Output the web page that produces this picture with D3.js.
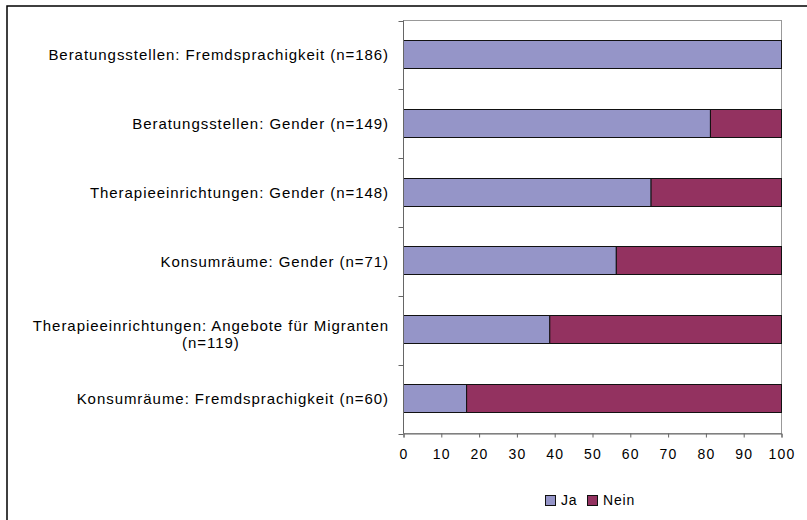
<!DOCTYPE html>
<html>
<head>
<meta charset="utf-8">
<script src="https://cdn.jsdelivr.net/npm/d3@7"></script>
<style>
  body { margin: 0; background: #fff; }
  text { font-family: "Liberation Sans", Arial, sans-serif; fill: #000; }
</style>
</head>
<body>
<div id="chart"></div>
<script>
// Categories, top to bottom
const categories = [
  'Beratungsstellen: Fremdsprachigkeit (n=186)',
  'Beratungsstellen: Gender (n=149)',
  'Therapieeinrichtungen: Gender (n=148)',
  'Konsumräume: Gender (n=71)',
  'Therapieeinrichtungen: Angebote für Migranten (n=119)',
  'Konsumräume: Fremdsprachigkeit (n=60)'
];
// Percent values
const ja = [100, 81.2, 65.5, 56.3, 38.7, 16.7];
const nein = [0, 18.8, 34.5, 43.7, 61.3, 83.3];
const seriesNames = ['Ja', 'Nein'];
const xTicks = [0, 10, 20, 30, 40, 50, 60, 70, 80, 90, 100];

const colors = { 'Ja': '#9595c8', 'Nein': '#933260' };

const width = 807, height = 520;
const margin = { top: 20.5, right: 25.5, bottom: 86.5, left: 403.5 };

const svg = d3.select('#chart')
  .append('svg')
    .attr('width', width)
    .attr('height', height);

// Outer frame
svg.append('rect')
  .attr('x', 7).attr('y', 6)
  .attr('width', width).attr('height', height)
  .attr('fill', 'none')
  .attr('stroke', '#000')
  .attr('stroke-width', 1.5);

const x = d3.scaleLinear()
  .domain([0, 100])
  .range([margin.left, width - margin.right]);

const y = d3.scaleBand()
  .domain(categories)
  .range([margin.top, height - margin.bottom]);

const barH = 28;

// Plot area border
svg.append('rect')
  .attr('x', x(0)).attr('y', margin.top)
  .attr('width', x(100) - x(0))
  .attr('height', height - margin.bottom - margin.top)
  .attr('fill', 'none')
  .attr('stroke', '#999');

// Stack the data
const table = categories.map((c, i) => ({ cat: c, Ja: ja[i], Nein: nein[i] }));
const stacked = d3.stack().keys(seriesNames)(table);

svg.append('g')
  .selectAll('g')
  .data(stacked)
  .join('g')
    .attr('fill', d => colors[d.key])
  .selectAll('rect')
  .data(d => d.filter(p => p[1] - p[0] > 0))
  .join('rect')
    .attr('x', d => x(d[0]))
    .attr('y', d => Math.round(y(d.data.cat) + (y.bandwidth() - barH) / 2 - 1) + 0.5)
    .attr('width', d => x(d[1]) - x(d[0]))
    .attr('height', barH)
    .attr('stroke', '#111')
    .attr('stroke-width', 1);

// Left axis (ticks at band edges)
const yEdges = categories.map(c => y(c)).concat([height - margin.bottom]);
const leftAxis = svg.append('g');
leftAxis.append('line')
  .attr('x1', x(0)).attr('x2', x(0))
  .attr('y1', margin.top).attr('y2', height - margin.bottom)
  .attr('stroke', '#666');
leftAxis.selectAll('.tk')
  .data(yEdges)
  .join('line')
    .attr('x1', x(0) - 5).attr('x2', x(0))
    .attr('y1', d => Math.round(d) + 0.5).attr('y2', d => Math.round(d) + 0.5)
    .attr('stroke', '#666');

// Category labels, wrapped when too long
const labelRight = 389;
const maxLabelW = 370;
svg.append('g')
  .selectAll('text')
  .data(categories)
  .join('text')
    .attr('font-size', 15)
    .attr('letter-spacing', '0.95px')
    .attr('text-anchor', 'end')
    .each(function(d) {
      const t = d3.select(this);
      const cy = y(d) + y.bandwidth() / 2;
      t.text(d).attr('x', labelRight).attr('y', cy).attr('dy', '0.35em');
      if (this.getComputedTextLength() > maxLabelW) {
        const cut = d.lastIndexOf(' (');
        const l1 = d.slice(0, cut), l2 = d.slice(cut + 1);
        t.text(null);
        const a = t.append('tspan').text(l1).attr('x', labelRight).attr('y', cy - 5).attr('dy', '0.35em');
        const w1 = a.node().getComputedTextLength();
        t.append('tspan').text(l2)
          .attr('x', labelRight - w1 / 2).attr('y', cy + 12).attr('dy', '0.35em')
          .attr('text-anchor', 'middle');
      }
    });

// Bottom axis
const xAxis = svg.append('g')
  .attr('transform', `translate(0,${height - margin.bottom})`)
  .call(d3.axisBottom(x).tickValues(xTicks).tickSize(4).tickPadding(12));
xAxis.select('.domain').attr('stroke', '#666');
xAxis.selectAll('.tick line').attr('stroke', '#666');
xAxis.selectAll('.tick text')
  .attr('font-size', 14)
  .attr('letter-spacing', '1.2px')
  .attr('font-family', '"Liberation Sans", Arial, sans-serif');

// Legend
const legendItems = [
  { name: 'Ja', x: 545 },
  { name: 'Nein', x: 587 }
];
const legend = svg.append('g').attr('transform', 'translate(0,495)');
legend.selectAll('rect')
  .data(legendItems)
  .join('rect')
    .attr('x', d => d.x + 0.5).attr('y', 0.5)
    .attr('width', 10).attr('height', 10)
    .attr('fill', d => colors[d.name])
    .attr('stroke', '#111');
legend.selectAll('text')
  .data(legendItems)
  .join('text')
    .attr('x', d => d.x + 16)
    .attr('y', 5.5)
    .attr('dy', '0.35em')
    .attr('font-size', 14)
    .attr('letter-spacing', '0.8px')
    .text(d => d.name);
</script>
</body>
</html>
